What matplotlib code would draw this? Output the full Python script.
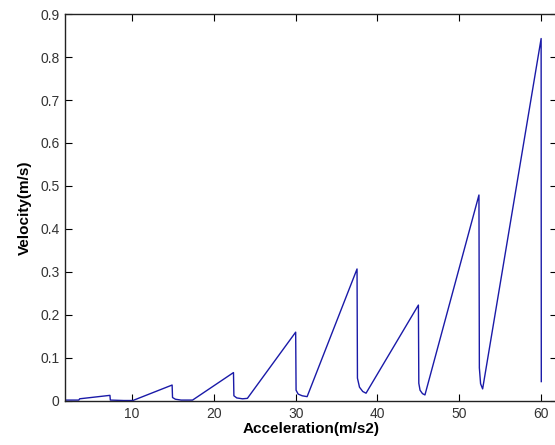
import matplotlib
matplotlib.use("Agg")
import matplotlib.pyplot as plt

# values
accel = [1.8, 3.5, 3.6, 7.3, 7.35, 9.0, 10.1, 14.9, 14.95, 15.3, 16.0, 17.4,
         22.4, 22.45, 22.8, 23.5, 24.1, 30.0, 30.05, 30.3, 30.8, 31.4,
         37.5, 37.55, 37.8, 38.2, 38.6, 45.0, 45.05, 45.2, 45.5, 45.8,
         52.4, 52.45, 52.6, 52.85, 60.0, 60.02]
velocity = [0.002, 0.002, 0.005, 0.013, 0.002, 0.001, 0.001, 0.037, 0.008, 0.004, 0.002, 0.002,
            0.066, 0.012, 0.007, 0.005, 0.006, 0.160, 0.025, 0.016, 0.012, 0.010,
            0.307, 0.053, 0.032, 0.022, 0.018, 0.223, 0.041, 0.025, 0.017, 0.014,
            0.479, 0.077, 0.040, 0.028, 0.843, 0.045]

plt.rcParams['font.family'] = ['Liberation Sans', 'DejaVu Sans']

fig = plt.figure(figsize=(5.55, 4.45), dpi=100)
ax = fig.add_axes([0.117, 0.099, 0.8875, 0.8695])
ax.plot(accel, velocity, color='#1a1aa8', linewidth=1.0)

ax.set_xlim(1.8, 62.0)
ax.set_ylim(0, 0.9)
ax.set_xticks([10, 20, 30, 40, 50, 60])
ax.set_yticks([0, 0.1, 0.2, 0.3, 0.4, 0.5, 0.6, 0.7, 0.8, 0.9])
ax.set_yticklabels(['0', '0.1', '0.2', '0.3', '0.4', '0.5', '0.6', '0.7', '0.8', '0.9'])
ax.tick_params(direction='in', top=True, right=True, length=5, labelsize=10,
               labelcolor='#333333', pad=4)
for s in ax.spines.values():
    s.set_linewidth(1.0)
    s.set_color('#222222')

ax.set_xlabel('Acceleration(m/s2)', fontsize=11, fontweight='bold', labelpad=1)
ax.set_ylabel('Velocity(m/s)', fontsize=11, fontweight='bold', labelpad=6)

fig.savefig('out.png', dpi=100)
